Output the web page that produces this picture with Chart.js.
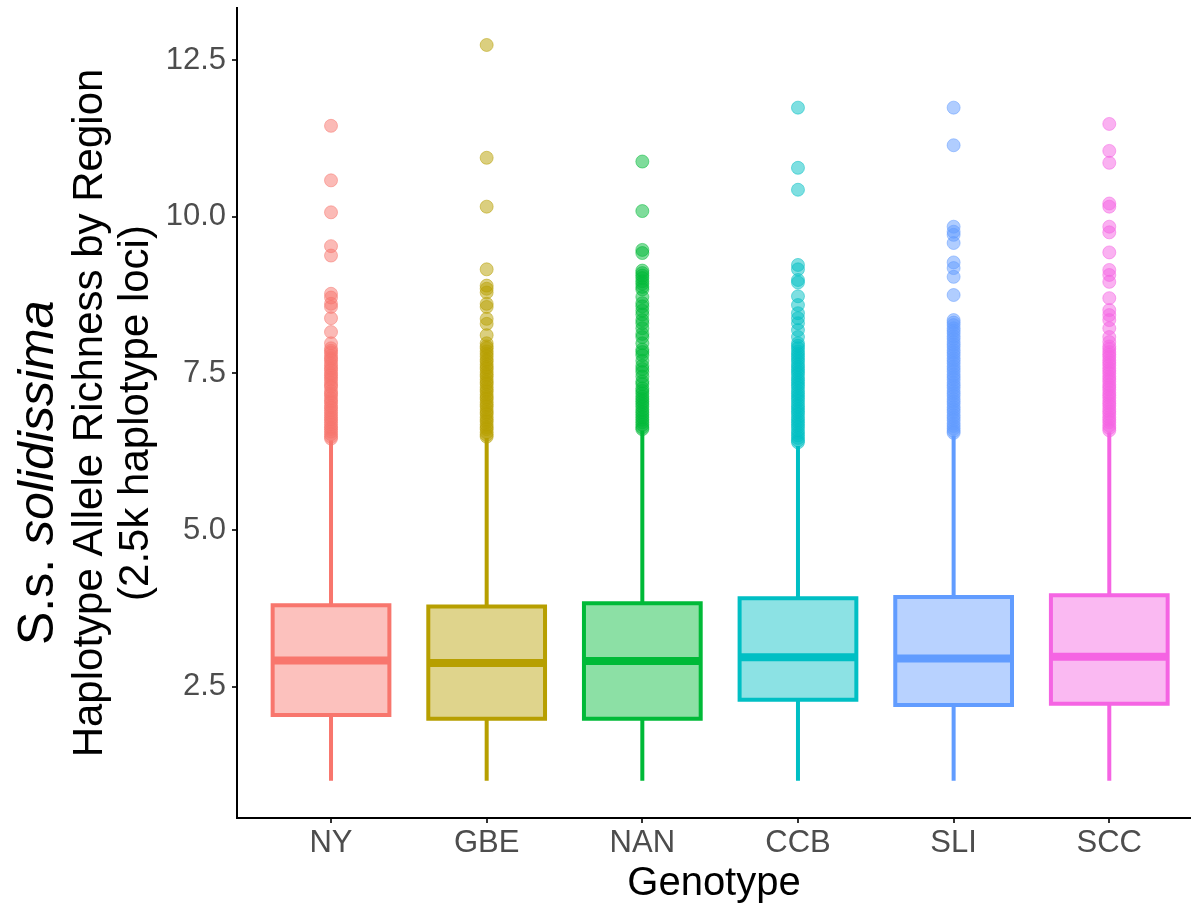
<!DOCTYPE html>
<html>
<head>
<meta charset="utf-8">
<title>Haplotype Allele Richness by Region</title>
<script src="https://cdn.jsdelivr.net/npm/chart.js@4.4.1/dist/chart.umd.min.js"></script>
<style>
  html, body { margin: 0; padding: 0; background: #fff; }
  canvas { display: block; }
</style>
</head>
<body>
<canvas id="myChart" width="1191" height="906"></canvas>
<script>
'use strict';

// categories + colours (ggplot default hues)
const categories = ['NY', 'GBE', 'NAN', 'CCB', 'SLI', 'SCC'];
const colors = ['#F8766D', '#B79F00', '#00BA38', '#00BFC4', '#619CFF', '#F564E3'];

// box stats
const lowWhisker = [1.0, 1.0, 1.0, 1.0, 1.0, 1.0];
const q1 = [2.05, 1.99, 1.99, 2.29, 2.21, 2.23];
const medians = [2.92, 2.88, 2.91, 2.97, 2.95, 2.98];
const q3 = [3.80, 3.78, 3.83, 3.91, 3.93, 3.96];
const highWhisker = [6.43, 6.47, 6.59, 6.34, 6.51, 6.56];

// outliers per region
const outNY = [11.45, 10.58, 10.07, 9.53, 9.38, 8.77, 8.71, 8.61, 8.56, 8.38, 8.16, 7.98,
  7.90, 7.86, 7.83, 7.78, 7.74, 7.71, 7.66, 7.62, 7.58, 7.55, 7.50, 7.47, 7.43, 7.40, 7.35,
  7.31, 7.28, 7.22, 7.18, 7.15, 7.10, 7.06, 7.03, 6.98, 6.95, 6.91, 6.87, 6.83, 6.79, 6.76,
  6.72, 6.68, 6.64, 6.61, 6.57, 6.53, 6.49, 6.46];
const outGBE = [12.74, 10.94, 10.16, 9.16, 8.90, 8.85, 8.79, 8.61, 8.56, 8.37, 8.29, 8.11,
  7.98, 7.93, 7.90, 7.85, 7.81, 7.77, 7.72, 7.69, 7.64, 7.60, 7.57, 7.52, 7.48, 7.45, 7.40,
  7.36, 7.33, 7.28, 7.24, 7.21, 7.16, 7.12, 7.09, 7.04, 7.00, 6.97, 6.92, 6.88, 6.85, 6.80,
  6.76, 6.73, 6.68, 6.64, 6.61, 6.56, 6.52, 6.49];
const outNAN = [10.88, 10.09, 9.47, 9.42, 9.14, 9.10, 9.06, 9.02, 8.97, 8.93, 8.88, 8.84,
  8.72, 8.62, 8.57, 8.50, 8.44, 8.35, 8.30, 8.22, 8.13, 8.08, 7.98, 7.88, 7.84, 7.79, 7.70,
  7.62, 7.57, 7.52, 7.45, 7.37, 7.33, 7.26, 7.22, 7.18, 7.13, 7.09, 7.05, 7.01, 6.97, 6.92,
  6.88, 6.84, 6.80, 6.76, 6.72, 6.68, 6.64, 6.61];
const outCCB = [11.74, 10.78, 10.43, 9.23, 9.16, 8.99, 8.95, 8.73, 8.59, 8.46, 8.38, 8.30,
  8.19, 8.08, 7.98, 7.94, 7.90, 7.85, 7.81, 7.77, 7.73, 7.69, 7.64, 7.60, 7.56, 7.52, 7.48,
  7.43, 7.39, 7.35, 7.31, 7.27, 7.22, 7.18, 7.14, 7.10, 7.06, 7.01, 6.97, 6.93, 6.89, 6.85,
  6.80, 6.76, 6.72, 6.68, 6.64, 6.59, 6.55, 6.51, 6.47, 6.43, 6.40];
const outSLI = [11.74, 11.14, 9.84, 9.76, 9.71, 9.58, 9.27, 9.18, 9.04, 8.75, 8.35, 8.31,
  8.27, 8.22, 8.18, 8.14, 8.09, 8.05, 8.00, 7.96, 7.92, 7.87, 7.83, 7.79, 7.74, 7.70, 7.66,
  7.61, 7.57, 7.53, 7.48, 7.44, 7.40, 7.35, 7.31, 7.27, 7.22, 7.18, 7.14, 7.09, 7.05, 7.01,
  6.96, 6.92, 6.88, 6.83, 6.79, 6.75, 6.70, 6.66, 6.62, 6.58, 6.55];
const outSCC = [11.48, 11.05, 10.86, 10.21, 10.16, 9.84, 9.75, 9.43, 9.15, 9.07, 8.96, 8.70,
  8.51, 8.43, 8.35, 8.22, 8.08, 8.00, 7.93, 7.89, 7.84, 7.80, 7.76, 7.71, 7.67, 7.63, 7.58,
  7.54, 7.50, 7.45, 7.41, 7.37, 7.32, 7.28, 7.24, 7.19, 7.15, 7.11, 7.06, 7.02, 6.98, 6.93,
  6.89, 6.85, 6.80, 6.76, 6.72, 6.67, 6.63, 6.59];
const outliers = [outNY, outGBE, outNAN, outCCB, outSLI, outSCC];

// axis ticks
const yTickValues = [2.5, 5, 7.5, 10, 12.5];
const yTickLabels = ['2.5', '5.0', '7.5', '10.0', '12.5'];

// titles
const xTitle = 'Genotype';
const yTitleSpecies = ['S.s. ', 'solidissima'];
const yTitleLines = ['Haplotype Allele Richness by Region', '(2.5k haplotype loci)'];

const FONT = '"Liberation Sans", Arial, Helvetica, sans-serif';
const boxHalf = 0.375;

function withAlpha(hex, a) {
  let r = parseInt(hex.slice(1, 3), 16);
  let g = parseInt(hex.slice(3, 5), 16);
  let b = parseInt(hex.slice(5, 7), 16);
  return `rgba(${r}, ${g}, ${b}, ${a})`;
}

let datasets = [];
for (let i = 0; i < categories.length; i++) {
  let x = i + 1;
  let col = colors[i];
  let boxFill = withAlpha(col, 0.45);
  let dotFill = withAlpha(col, 0.5);

  // outliers on top
  datasets.push({
    label: categories[i] + ' outliers',
    data: outliers[i].map(v => ({ x: x, y: v })),
    pointRadius: 6.5,
    pointBackgroundColor: dotFill,
    pointBorderColor: dotFill,
    pointBorderWidth: 1,
    order: 0
  });
  // median
  datasets.push({
    label: categories[i] + ' median',
    data: [{ x: x - boxHalf, y: medians[i] }, { x: x + boxHalf, y: medians[i] }],
    showLine: true,
    borderColor: col,
    borderWidth: 8,
    pointRadius: 0,
    order: 1
  });
  // box (closed shape, first edge repeated so every corner gets a miter)
  datasets.push({
    label: categories[i] + ' box',
    data: [
      { x: x - boxHalf, y: q1[i] }, { x: x + boxHalf, y: q1[i] },
      { x: x + boxHalf, y: q3[i] }, { x: x - boxHalf, y: q3[i] },
      { x: x - boxHalf, y: q1[i] }, { x: x + boxHalf, y: q1[i] }
    ],
    showLine: true,
    fill: 'shape',
    backgroundColor: boxFill,
    borderColor: col,
    borderWidth: 4,
    borderJoinStyle: 'miter',
    pointRadius: 0,
    order: 2
  });
  // whiskers
  datasets.push({
    label: categories[i] + ' whiskers',
    data: [{ x: x, y: lowWhisker[i] }, { x: x, y: q1[i] }, { x: x, y: null },
      { x: x, y: q3[i] }, { x: x, y: highWhisker[i] }],
    showLine: true,
    spanGaps: false,
    borderColor: col,
    borderWidth: 4,
    pointRadius: 0,
    order: 3
  });
}

// y axis title: three rotated lines, first one partly italic
const yTitlePlugin = {
  id: 'yTitle',
  afterDraw(chart) {
    let ctx = chart.ctx;
    let area = chart.chartArea;
    let midY = (area.top + area.bottom) / 2;

    ctx.save();
    ctx.fillStyle = '#000';
    ctx.textBaseline = 'alphabetic';
    ctx.translate(53, 645);
    ctx.rotate(-Math.PI / 2);
    ctx.textAlign = 'left';
    ctx.font = '50px ' + FONT;
    ctx.fillText(yTitleSpecies[0], 0, 0);
    let w = ctx.measureText(yTitleSpecies[0]).width;
    ctx.font = 'italic 50px ' + FONT;
    ctx.fillText(yTitleSpecies[1], w, 0);
    ctx.restore();

    ctx.save();
    ctx.fillStyle = '#000';
    ctx.textBaseline = 'alphabetic';
    ctx.textAlign = 'center';
    ctx.font = '42px ' + FONT;
    ctx.translate(102, midY);
    ctx.rotate(-Math.PI / 2);
    ctx.fillText(yTitleLines[0], 0, 0);
    ctx.fillText(yTitleLines[1], 0, 46);
    ctx.restore();
  }
};

let canvasChart = document.getElementById('myChart').getContext('2d');
const myChart = new Chart(canvasChart, {
  type: 'scatter',
  data: { datasets: datasets },
  options: {
    responsive: false,
    animation: false,
    events: [],
    layout: { autoPadding: false, padding: { top: 8, right: 0, bottom: 0, left: 0 } },
    plugins: {
      legend: { display: false },
      tooltip: { enabled: false }
    },
    scales: {
      x: {
        type: 'linear',
        min: 0.396,
        max: 6.525,
        afterBuildTicks: (scale) => {
          scale.ticks = categories.map((c, i) => ({ value: i + 1 }));
        },
        afterFit: (scale) => {
          scale.height = 88;
          scale.paddingLeft = 0;
          scale.paddingRight = 0;
        },
        ticks: {
          callback: (value) => categories[Math.round(value) - 1],
          color: '#4D4D4D',
          font: { family: FONT, size: 31 },
          padding: 2,
          autoSkip: false,
          maxRotation: 0
        },
        grid: {
          drawOnChartArea: false,
          drawTicks: true,
          tickLength: 5,
          color: '#333333',
          lineWidth: 2
        },
        border: { display: true, color: '#000', width: 2 },
        title: {
          display: true,
          text: xTitle,
          color: '#000',
          font: { family: FONT, size: 40, lineHeight: 1 },
          padding: { top: 0, bottom: 2 }
        }
      },
      y: {
        type: 'linear',
        min: 0.405,
        max: 13.33,
        afterBuildTicks: (scale) => {
          scale.ticks = yTickValues.map(v => ({ value: v }));
        },
        afterFit: (scale) => {
          scale.width = 237;
          scale.paddingTop = 0;
          scale.paddingBottom = 0;
        },
        ticks: {
          callback: (value, index) => yTickLabels[index],
          color: '#4D4D4D',
          font: { family: FONT, size: 31 },
          padding: 6
        },
        grid: {
          drawOnChartArea: false,
          drawTicks: true,
          tickLength: 5,
          color: '#333333',
          lineWidth: 2
        },
        border: { display: true, color: '#000', width: 2 }
      }
    }
  },
  plugins: [yTitlePlugin]
});
</script>
</body>
</html>
